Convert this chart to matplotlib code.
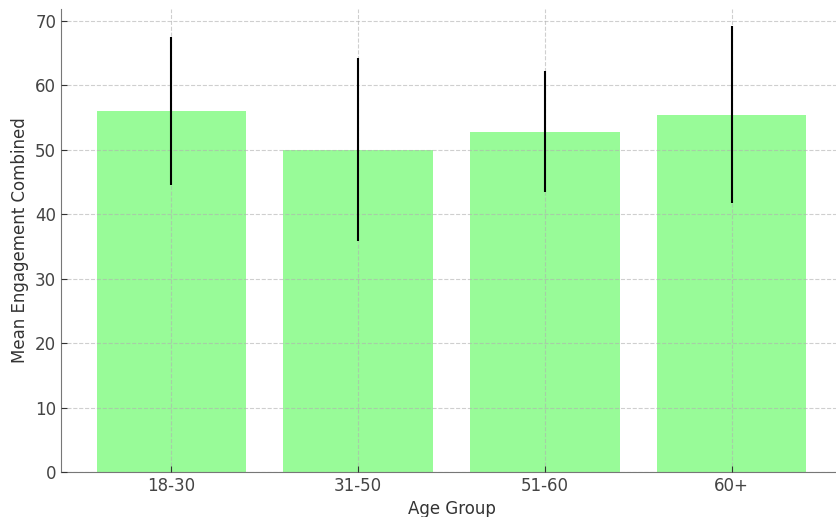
import matplotlib
matplotlib.use("Agg")
import matplotlib.pyplot as plt

age_groups = ["18-30", "31-50", "51-60", "60+"]
mean_engagement = [56.0, 50.0, 52.8, 55.4]
std_engagement = [11.5, 14.2, 9.4, 13.7]

fig = plt.figure(figsize=(8.37, 5.17), dpi=100)
ax = fig.add_axes([61 / 837, 45 / 517, 781 / 837, 463 / 517])

ax.bar(age_groups, mean_engagement, yerr=std_engagement, color="#98FB98",
       width=0.8, zorder=1,
       error_kw=dict(ecolor="black", elinewidth=1.5, capsize=0, zorder=3))

ax.set_ylim(0, 71.8)
ax.set_xlabel("Age Group", fontsize=12, color="#333333")
ax.set_ylabel("Mean Engagement Combined", fontsize=12, color="#333333")
ax.tick_params(labelsize=12, labelcolor="#444444", color="#333333",
               direction="in", length=4)
ax.grid(True, linestyle="--", color="#b0b0b0", alpha=0.6, linewidth=0.8, zorder=2)
ax.set_axisbelow(False)
ax.spines["top"].set_visible(False)
ax.spines["right"].set_visible(False)
ax.spines["left"].set_color("#777777")
ax.spines["bottom"].set_color("#777777")

fig.savefig("out.png", dpi=100)
